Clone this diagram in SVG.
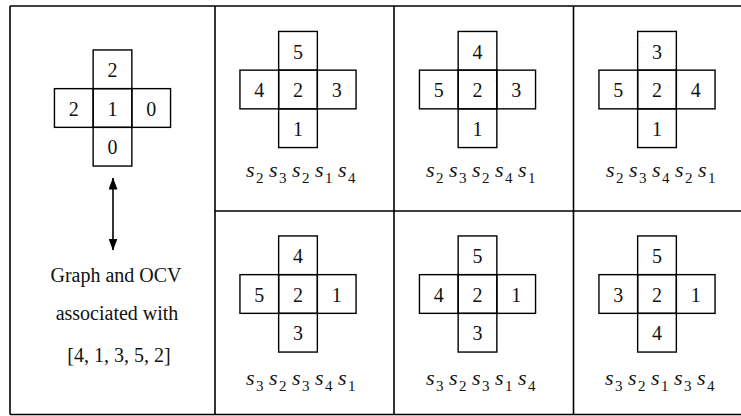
<svg xmlns="http://www.w3.org/2000/svg" width="741" height="416" viewBox="0 0 741 416">
  <style>
    .frame { stroke: #000; stroke-width: 1.6; fill: none; }
    .box { stroke: #000; stroke-width: 1.4; fill: none; }
    text { font-family: 'Liberation Serif', 'DejaVu Serif', serif; fill: #111; }
    .num { font-size: 20px; text-anchor: middle; }
    .cap { font-size: 20px; text-anchor: middle; }
    .lab { font-size: 22px; text-anchor: start; }
    .s { font-style: italic; font-size: 22px; }
    .sub { font-size: 15px; }
    .conn { stroke: #000; stroke-width: 1.6; fill: none; }
  </style>
  <defs>
    <g id="crossShape">
      <rect class="box" x="-19.35" y="-58.05" width="38.7" height="38.7"/>
      <rect class="box" x="-58.05" y="-19.35" width="38.7" height="38.7"/>
      <rect class="box" x="-19.35" y="-19.35" width="38.7" height="38.7"/>
      <rect class="box" x="19.35" y="-19.35" width="38.7" height="38.7"/>
      <rect class="box" x="-19.35" y="19.35" width="38.7" height="38.7"/>
    </g>
    <marker id="arrow" markerUnits="userSpaceOnUse" markerWidth="12" markerHeight="9" refX="11.5" refY="4.5" orient="auto-start-reverse">
      <path d="M0,0 L12,4.5 L0,9 z" fill="#000"/>
    </marker>
  </defs>

  <g id="frame">
    <line class="frame" x1="10" y1="6" x2="741" y2="6"/>
    <line class="frame" x1="10" y1="414.5" x2="741" y2="414.5"/>
    <line class="frame" x1="10" y1="6" x2="10" y2="414.5"/>
    <line class="frame" x1="215" y1="6" x2="215" y2="414.5"/>
    <line class="frame" x1="394" y1="6" x2="394" y2="414.5"/>
    <line class="frame" x1="573.5" y1="6" x2="573.5" y2="414.5"/>
    <line class="frame" x1="215" y1="211" x2="741" y2="211"/>
  </g>

  <g font-family="'Liberation Serif', 'DejaVu Serif', serif">
  <g id="main-cross">
    <use href="#crossShape" transform="translate(112.5,108)"/>
    <text class="num" x="112.5" y="77">2</text>
    <text class="num" x="73.8" y="115.5">2</text>
    <text class="num" x="112.5" y="115.5">1</text>
    <text class="num" x="151.2" y="115.5">0</text>
    <text class="num" x="112.5" y="154">0</text>
  </g>

  <g id="caption">
    <text class="cap" x="116" y="282">Graph and OCV</text>
    <text class="cap" x="117" y="320">associated with</text>
    <text class="cap" x="119" y="362">[4, 1, 3, 5, 2]</text>
  </g>

  <g id="connectors">
    <line class="conn" x1="113" y1="178" x2="113" y2="250" marker-start="url(#arrow)" marker-end="url(#arrow)"/>
  </g>

  <g id="cell-1">
    <use href="#crossShape" transform="translate(298,89.5)"/>
    <text class="num" x="298" y="58.5">5</text>
    <text class="num" x="259.3" y="97">4</text>
    <text class="num" x="298" y="97">2</text>
    <text class="num" x="336.7" y="97">3</text>
    <text class="num" x="298" y="135.5">1</text>
    <text class="lab" y="177"><tspan class="s" x="246">s</tspan><tspan class="sub" x="256" y="182.5">2</tspan><tspan class="s" x="269" y="177">s</tspan><tspan class="sub" x="279" y="182.5">3</tspan><tspan class="s" x="292" y="177">s</tspan><tspan class="sub" x="302" y="182.5">2</tspan><tspan class="s" x="315" y="177">s</tspan><tspan class="sub" x="325" y="182.5">1</tspan><tspan class="s" x="338" y="177">s</tspan><tspan class="sub" x="348" y="182.5">4</tspan></text>
  </g>

  <g id="cell-2">
    <use href="#crossShape" transform="translate(477.5,89.5)"/>
    <text class="num" x="477.5" y="58.5">4</text>
    <text class="num" x="438.8" y="97">5</text>
    <text class="num" x="477.5" y="97">2</text>
    <text class="num" x="516.2" y="97">3</text>
    <text class="num" x="477.5" y="135.5">1</text>
    <text class="lab" y="177"><tspan class="s" x="426">s</tspan><tspan class="sub" x="436" y="182.5">2</tspan><tspan class="s" x="449" y="177">s</tspan><tspan class="sub" x="459" y="182.5">3</tspan><tspan class="s" x="472" y="177">s</tspan><tspan class="sub" x="482" y="182.5">2</tspan><tspan class="s" x="495" y="177">s</tspan><tspan class="sub" x="505" y="182.5">4</tspan><tspan class="s" x="518" y="177">s</tspan><tspan class="sub" x="528" y="182.5">1</tspan></text>
  </g>

  <g id="cell-3">
    <use href="#crossShape" transform="translate(657,89.5)"/>
    <text class="num" x="657" y="58.5">3</text>
    <text class="num" x="618.3" y="97">5</text>
    <text class="num" x="657" y="97">2</text>
    <text class="num" x="695.7" y="97">4</text>
    <text class="num" x="657" y="135.5">1</text>
    <text class="lab" y="177"><tspan class="s" x="606">s</tspan><tspan class="sub" x="616" y="182.5">2</tspan><tspan class="s" x="629" y="177">s</tspan><tspan class="sub" x="639" y="182.5">3</tspan><tspan class="s" x="652" y="177">s</tspan><tspan class="sub" x="662" y="182.5">4</tspan><tspan class="s" x="675" y="177">s</tspan><tspan class="sub" x="685" y="182.5">2</tspan><tspan class="s" x="698" y="177">s</tspan><tspan class="sub" x="708" y="182.5">1</tspan></text>
  </g>

  <g id="cell-4">
    <use href="#crossShape" transform="translate(298,294)"/>
    <text class="num" x="298" y="263">4</text>
    <text class="num" x="259.3" y="301.5">5</text>
    <text class="num" x="298" y="301.5">2</text>
    <text class="num" x="336.7" y="301.5">1</text>
    <text class="num" x="298" y="340">3</text>
    <text class="lab" y="385"><tspan class="s" x="246">s</tspan><tspan class="sub" x="256" y="390.5">3</tspan><tspan class="s" x="269" y="385">s</tspan><tspan class="sub" x="279" y="390.5">2</tspan><tspan class="s" x="292" y="385">s</tspan><tspan class="sub" x="302" y="390.5">3</tspan><tspan class="s" x="315" y="385">s</tspan><tspan class="sub" x="325" y="390.5">4</tspan><tspan class="s" x="338" y="385">s</tspan><tspan class="sub" x="348" y="390.5">1</tspan></text>
  </g>

  <g id="cell-5">
    <use href="#crossShape" transform="translate(477.5,294)"/>
    <text class="num" x="477.5" y="263">5</text>
    <text class="num" x="438.8" y="301.5">4</text>
    <text class="num" x="477.5" y="301.5">2</text>
    <text class="num" x="516.2" y="301.5">1</text>
    <text class="num" x="477.5" y="340">3</text>
    <text class="lab" y="385"><tspan class="s" x="426">s</tspan><tspan class="sub" x="436" y="390.5">3</tspan><tspan class="s" x="449" y="385">s</tspan><tspan class="sub" x="459" y="390.5">2</tspan><tspan class="s" x="472" y="385">s</tspan><tspan class="sub" x="482" y="390.5">3</tspan><tspan class="s" x="495" y="385">s</tspan><tspan class="sub" x="505" y="390.5">1</tspan><tspan class="s" x="518" y="385">s</tspan><tspan class="sub" x="528" y="390.5">4</tspan></text>
  </g>

  <g id="cell-6">
    <use href="#crossShape" transform="translate(657,294)"/>
    <text class="num" x="657" y="263">5</text>
    <text class="num" x="618.3" y="301.5">3</text>
    <text class="num" x="657" y="301.5">2</text>
    <text class="num" x="695.7" y="301.5">1</text>
    <text class="num" x="657" y="340">4</text>
    <text class="lab" y="385"><tspan class="s" x="605">s</tspan><tspan class="sub" x="615" y="390.5">3</tspan><tspan class="s" x="628" y="385">s</tspan><tspan class="sub" x="638" y="390.5">2</tspan><tspan class="s" x="651" y="385">s</tspan><tspan class="sub" x="661" y="390.5">1</tspan><tspan class="s" x="674" y="385">s</tspan><tspan class="sub" x="684" y="390.5">3</tspan><tspan class="s" x="697" y="385">s</tspan><tspan class="sub" x="707" y="390.5">4</tspan></text>
  </g>
  </g>
</svg>
